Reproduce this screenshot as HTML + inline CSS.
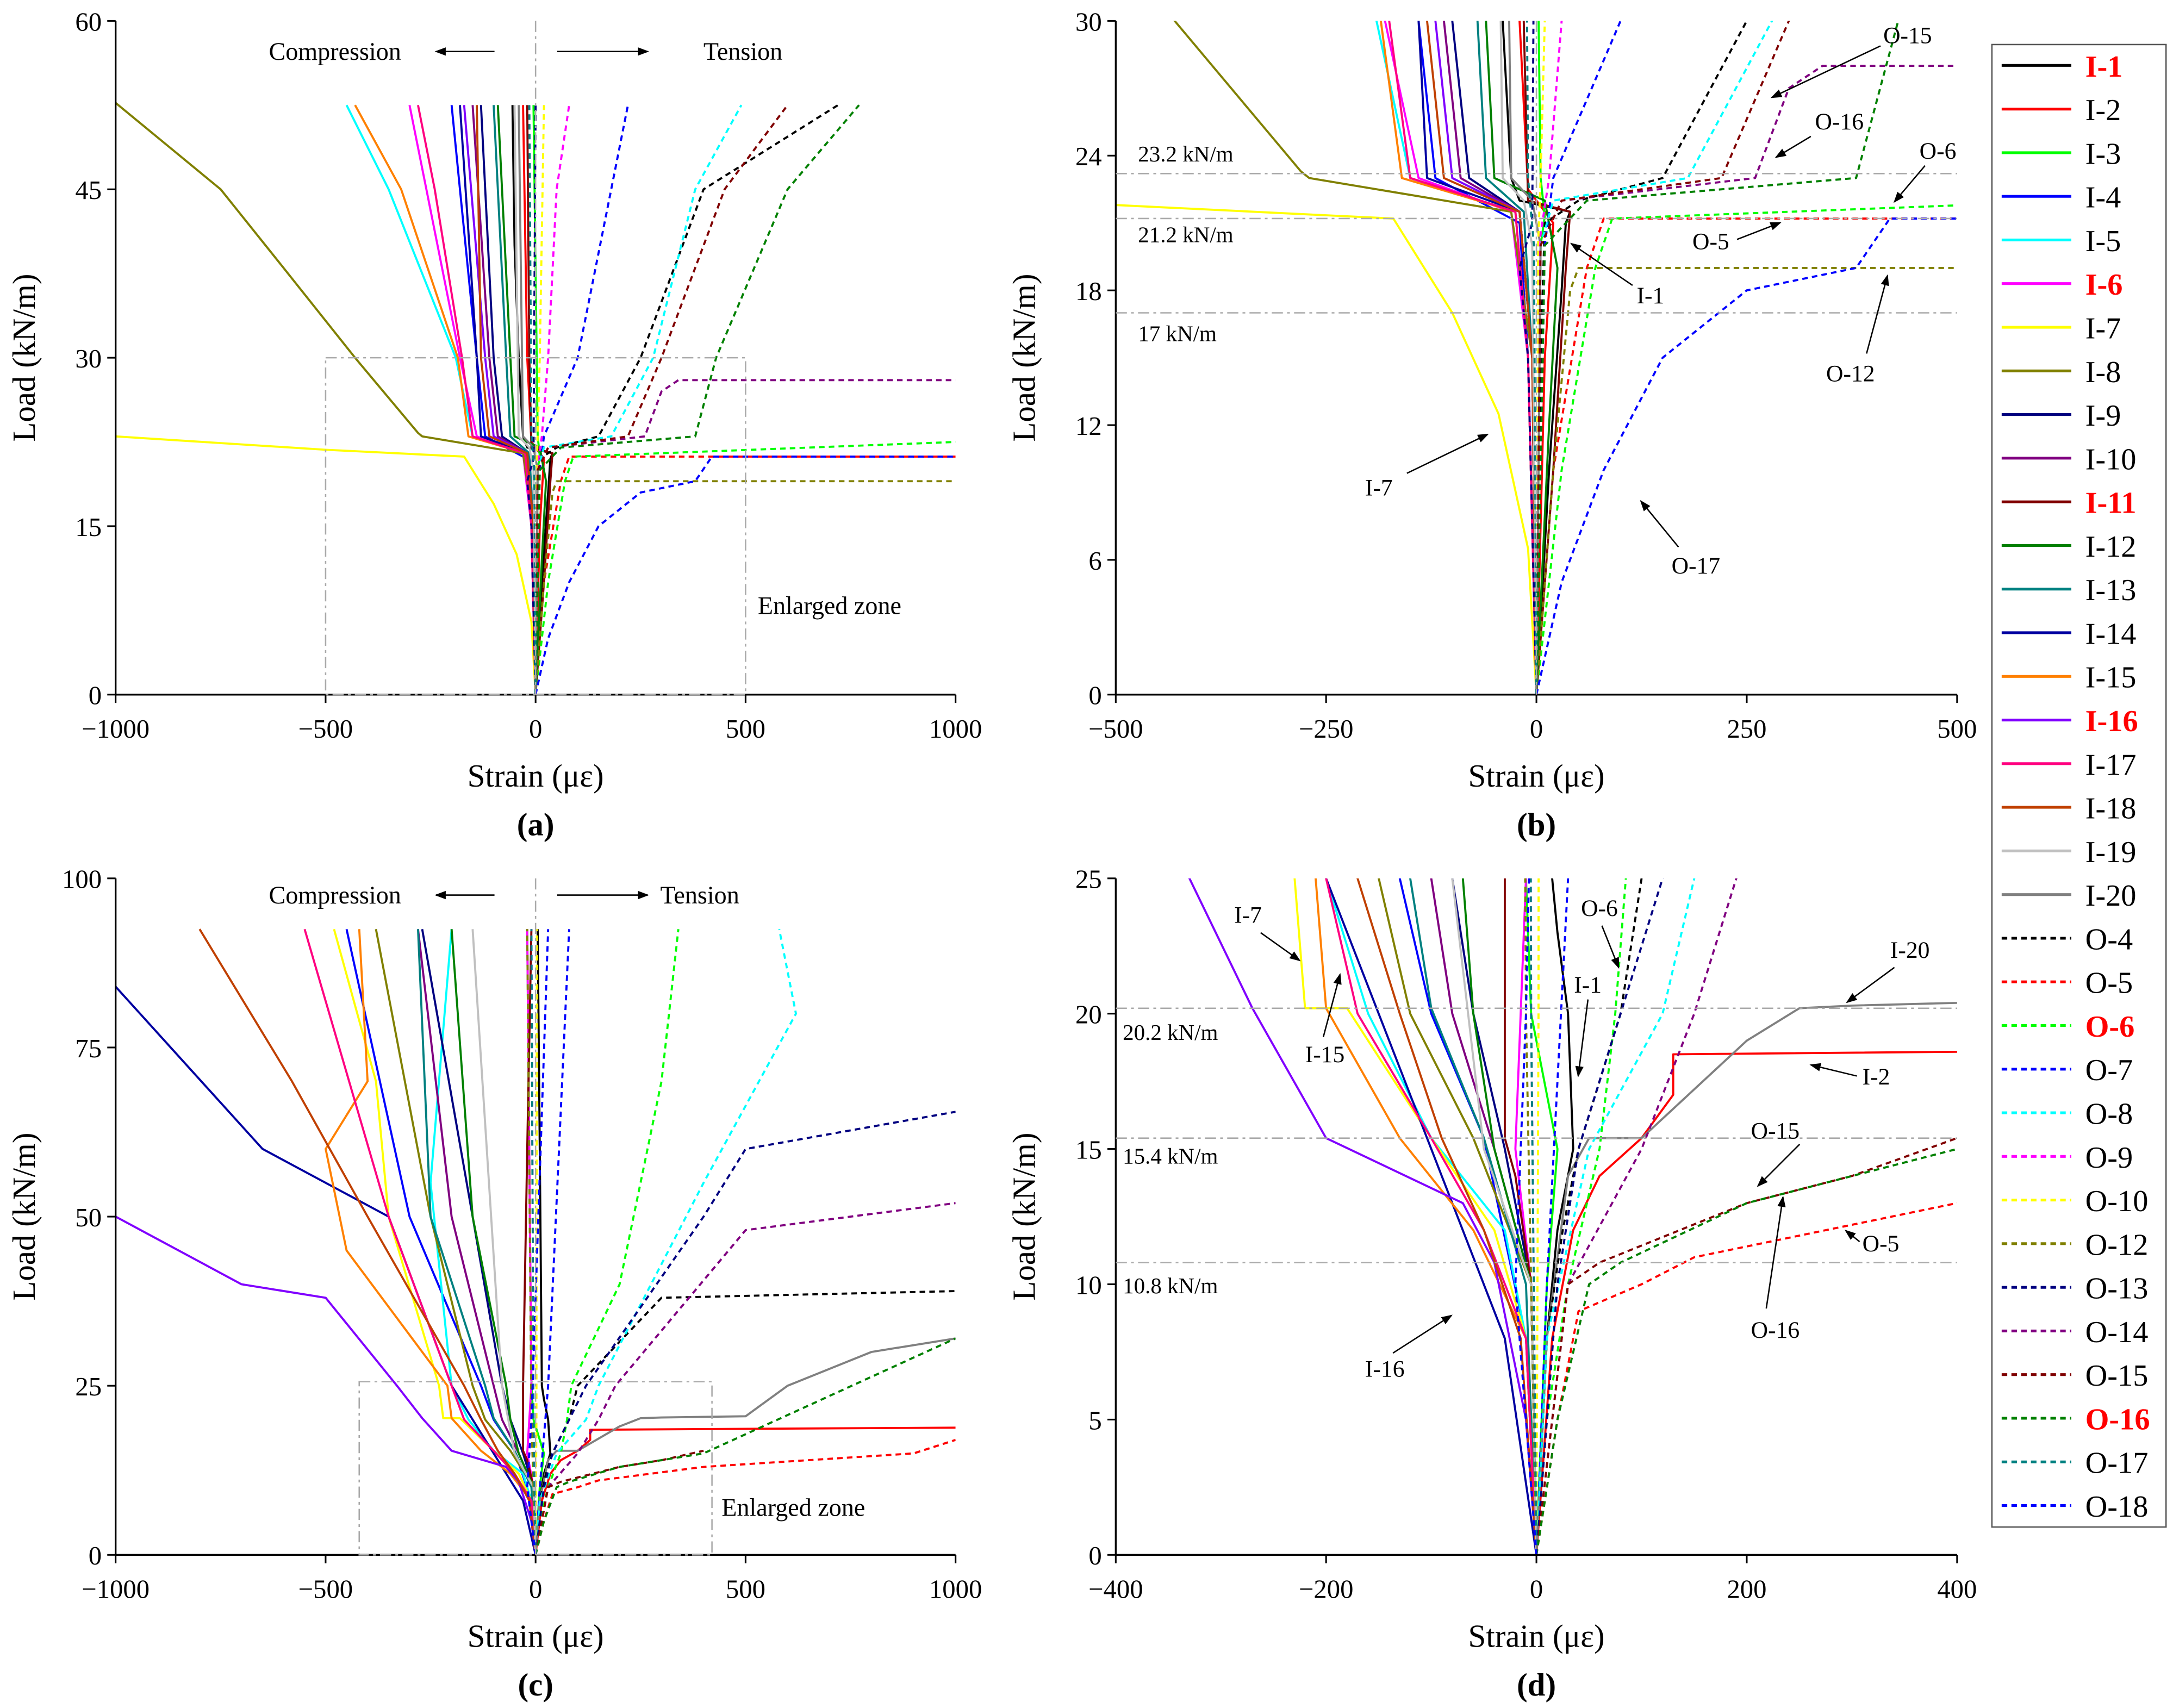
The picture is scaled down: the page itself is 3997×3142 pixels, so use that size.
<!DOCTYPE html>
<html><head><meta charset="utf-8"><style>
html,body{margin:0;padding:0;background:#fff}
svg{display:block}
text{font-family:"Liberation Serif",serif;fill:#000}
</style></head><body>
<svg id="chart" width="3997" height="3142" viewBox="0 0 1560 1227" preserveAspectRatio="none" xmlns="http://www.w3.org/2000/svg">
<defs>
<marker id="ah" markerWidth="8" markerHeight="8" refX="7" refY="4" orient="auto" markerUnits="userSpaceOnUse"><path d="M0,1 L8,4 L0,7 z" fill="#000"/></marker>
</defs>
<g id="root"></g>
</svg>
<script>
// ---------- data ----------
const seriesNames = ["I-1","I-2","I-3","I-4","I-5","I-6","I-7","I-8","I-9","I-10","I-11","I-12","I-13","I-14","I-15","I-16","I-17","I-18","I-19","I-20","O-4","O-5","O-6","O-7","O-8","O-9","O-10","O-12","O-13","O-14","O-15","O-16","O-17","O-18"];
const seriesColors = ["#000000","#ff0000","#00ff00","#0000ff","#00ffff","#ff00ff","#ffff00","#808000","#000080","#800080","#800000","#008000","#008080","#0000a0","#ff8000","#8000ff","#ff0080","#c04000","#c0c0c0","#808080","#000000","#ff0000","#00ff00","#0000ff","#00ffff","#ff00ff","#ffff00","#808000","#000080","#800080","#800000","#008000","#008080","#0000ff"];
const boldRed = ["I-1","I-6","I-11","I-16","O-6","O-16"];

// Test 1 (panels a & b): [strain, load]
const test1 = {
"I-1":[[0,0],[15,10],[30,18],[35,21],[40,21.5],[-20,22],[-30,23],[-40,30],[-50,40],[-55,52.5]],
"I-2":[[0,0],[10,15],[20,21],[-10,22.5],[-20,30],[-30,52.5]],
"I-3":[[0,0],[5,20],[10,21.3],[5,23],[-5,52.5]],
"I-4":[[0,0],[-10,15],[-20,21],[-120,23],[-140,30],[-180,45],[-200,52.5]],
"I-5":[[0,0],[-10,15],[-25,21.5],[-150,23],[-190,30],[-350,45],[-450,52.5]],
"I-6":[[0,0],[-10,15],[-30,21.5],[-140,23],[-180,30],[-260,45],[-300,52.5]],
"I-7":[[0,0],[-10,6.5],[-45,12.5],[-100,17],[-170,21.2],[-500,21.8],[-1000,23]],
"I-8":[[0,0],[-5,15],[-30,21.5],[-270,23],[-280,23.3],[-430,30],[-600,38],[-750,45],[-1000,52.7]],
"I-9":[[0,0],[-5,15],[-20,21.5],[-80,23],[-100,30],[-130,52.5]],
"I-10":[[0,0],[-5,15],[-20,21.5],[-90,23],[-110,30],[-150,52.5]],
"I-11":[[0,0],[20,10],[35,19],[40,21.5],[-10,22],[-15,30],[-20,52.5]],
"I-12":[[0,0],[15,12],[25,19],[10,22],[-50,23],[-60,30],[-90,52.5]],
"I-13":[[0,0],[-5,15],[-15,21.5],[-60,23],[-70,30],[-100,52.5]],
"I-14":[[0,0],[-5,15],[-20,21.5],[-130,23],[-140,30],[-180,52.5]],
"I-15":[[0,0],[-10,15],[-25,21.5],[-160,23],[-185,30],[-320,45],[-430,52.5]],
"I-16":[[0,0],[-5,15],[-20,21.5],[-100,23],[-120,30],[-170,52.5]],
"I-17":[[0,0],[-10,15],[-25,21.5],[-150,23],[-175,30],[-240,45],[-280,52.5]],
"I-18":[[0,0],[-5,15],[-20,21.5],[-110,23],[-130,30],[-140,52.5]],
"I-19":[[0,0],[-5,20],[-15,22],[-40,23],[-50,52.5]],
"I-20":[[0,0],[5,20],[-5,22],[-30,23],[-40,52.5]],
"O-4":[[0,0],[5,15],[10,21],[50,22],[150,23],[250,30],[400,45],[720,52.5]],
"O-5":[[0,0],[20,10],[60,19],[80,21.2],[1000,21.2]],
"O-6":[[0,0],[30,10],[70,19],[90,21.2],[1000,22.5]],
"O-7":[[0,0],[10,20],[20,23],[100,30],[180,45],[220,52.5]],
"O-8":[[0,0],[5,20],[20,22],[180,23],[280,30],[380,45],[490,52.5]],
"O-9":[[0,0],[3,20],[15,23],[30,30],[50,45],[80,52.5]],
"O-10":[[0,0],[2,20],[5,23],[10,30],[20,52.5]],
"O-12":[[0,0],[20,10],[40,18],[50,19],[1000,19]],
"O-13":[[0,0],[-10,15],[-20,19],[-5,21],[0,52.5]],
"O-14":[[0,0],[5,20],[30,22],[260,23],[300,27],[340,28],[1000,28]],
"O-15":[[0,0],[5,20],[30,22],[220,23],[300,30],[450,45],[600,52.5]],
"O-16":[[0,0],[10,20],[60,22],[380,23],[430,30],[600,45],[770,52.5]],
"O-17":[[0,0],[-3,20],[-10,23],[-15,52.5]],
"O-18":[[0,0],[30,5],[80,10],[150,15],[250,18],[380,19],[420,21.2],[1000,21.2]]
};
// Test 2 (panels c & d)
const test2 = {
"I-1":[[0,0],[10,8],[20,12],[35,15],[30,20],[20,23],[15,25],[10,60],[5,92.5]],
"I-2":[[0,0],[15,8],[35,12],[60,14],[100,15.4],[130,17],[130,18.5],[1000,18.8]],
"I-3":[[0,0],[10,10],[20,15],[-5,20],[-10,25],[-20,92.5]],
"I-4":[[0,0],[-10,8],[-50,15.4],[-100,20],[-130,25],[-300,50],[-450,92.5]],
"I-5":[[0,0],[-10,8],[-30,12],[-100,15.4],[-160,20],[-200,25],[-250,55],[-200,92.5]],
"I-6":[[0,0],[-5,10],[-20,15],[-10,25],[-20,92.5]],
"I-7":[[0,0],[-10,8],[-40,12],[-100,15.4],[-180,20.2],[-220,20.2],[-230,25],[-350,50],[-380,70],[-480,92.5]],
"I-8":[[0,0],[-5,10],[-60,15.4],[-120,20],[-150,25],[-250,50],[-380,92.5]],
"I-9":[[0,0],[-5,10],[-30,15],[-60,20],[-80,25],[-150,50],[-270,92.5]],
"I-10":[[0,0],[-5,10],[-40,15],[-80,20],[-100,25],[-200,50],[-280,92.5]],
"I-11":[[0,0],[-5,10],[-20,14],[-30,15.4],[-30,25],[-20,60],[-10,92.5]],
"I-12":[[0,0],[-5,10],[-40,15],[-60,20],[-70,25],[-150,50],[-200,92.5]],
"I-13":[[0,0],[-10,10],[-50,15.4],[-100,20.2],[-120,25],[-250,50],[-280,92.5]],
"I-14":[[0,0],[-30,8],[-100,15],[-200,25],[-350,50],[-650,60],[-1000,84]],
"I-15":[[0,0],[-10,8],[-60,12],[-130,15.4],[-200,20.2],[-210,25],[-450,45],[-500,60],[-400,70],[-420,92.5]],
"I-16":[[0,0],[-10,5],[-40,10.8],[-70,13],[-200,15.4],[-270,20.2],[-330,25],[-500,38],[-700,40],[-1000,50]],
"I-17":[[0,0],[-10,8],[-50,12],[-100,15.4],[-170,20],[-200,25],[-350,50],[-550,92.5]],
"I-18":[[0,0],[-15,8],[-50,12],[-90,15.4],[-130,20],[-170,25],[-400,50],[-580,70],[-800,92.5]],
"I-19":[[0,0],[-5,10],[-50,15],[-80,25],[-150,92.5]],
"I-20":[[0,0],[10,8],[30,14],[50,15.4],[100,15.4],[200,19],[250,20.2],[300,20.3],[500,20.5],[600,25],[800,30],[1000,32]],
"O-4":[[0,0],[10,8],[25,12],[40,15],[80,20],[100,25],[300,38],[1000,39]],
"O-5":[[0,0],[20,5],[40,9],[100,10],[150,11],[400,13],[900,15],[1000,17]],
"O-6":[[0,0],[10,5],[30,10],[60,15],[75,20],[85,25],[200,40],[300,70],[340,92.5]],
"O-7":[[0,0],[10,10],[30,25],[80,92.5]],
"O-8":[[0,0],[10,8],[50,15],[120,20],[150,25],[400,55],[620,80],[580,92.5]],
"O-9":[[0,0],[-5,20],[-10,92.5]],
"O-10":[[0,0],[2,20],[3,92.5]],
"O-12":[[0,0],[-5,10],[-10,20],[-20,92.5]],
"O-13":[[0,0],[20,10],[40,15],[80,20],[120,25],[400,50],[500,60],[1000,65.5]],
"O-14":[[0,0],[30,10],[100,15],[150,20],[190,25],[500,48],[1000,52]],
"O-15":[[0,0],[30,10],[60,10.8],[200,13],[300,14],[400,15.4]],
"O-16":[[0,0],[20,5],[50,10],[80,10.8],[200,13],[400,15],[1000,32]],
"O-17":[[0,0],[-5,20],[-10,92.5]],
"O-18":[[0,0],[-20,10],[-10,20],[30,92.5]]
};
const panelA_xticks=[-1000,-500,0,500,1000], panelA_yticks=[0,15,30,45,60];
const panelB_xticks=[-500,-250,0,250,500], panelB_yticks=[0,6,12,18,24,30];
const panelC_xticks=[-1000,-500,0,500,1000], panelC_yticks=[0,25,50,75,100];
const panelD_xticks=[-400,-200,0,200,400], panelD_yticks=[0,5,10,15,20,25];
const refLinesB=[23.2,21.2,17], refLinesD=[20.2,15.4,10.8];

// ---------- drawing ----------
const NS="http://www.w3.org/2000/svg";
const root=document.getElementById('root');
function el(tag,attrs,parent){const e=document.createElementNS(NS,tag);for(const k in attrs)e.setAttribute(k,attrs[k]);(parent||root).appendChild(e);return e;}
function txt(s,x,y,size,parent,anchor,extra){const t=el('text',Object.assign({x:x,y:y,'font-size':size,'text-anchor':anchor||'start'},extra||{}),parent);t.textContent=s;return t;}

function panel(id,L,R,T,B,xmin,xmax,ymax,xt,yt,data,letter){
  const g=el('g',{});
  
  
  const sx=v=>L+(v-xmin)/(xmax-xmin)*(R-L);
  const sy=v=>B-v/ymax*(B-T);
  const cp=el('clipPath',{id:'clip'+id},g);el('rect',{x:L,y:T,width:R-L,height:B-T},cp);
  const lines=el('g',{'clip-path':'url(#clip'+id+')'},g);
  seriesNames.forEach((n,i)=>{
    const pts=data[n].map(p=>sx(p[0]).toFixed(1)+','+sy(p[1]).toFixed(1)).join(' ');
    const pl=el('polyline',{points:pts,fill:'none',stroke:seriesColors[i],'stroke-width':1.5,'stroke-dasharray':n[0]==='O'?'4,3':'none','stroke-linejoin':'round'},lines);
    
    
  });
  el('line',{x1:L,y1:T,x2:L,y2:B,stroke:'#000','stroke-width':1.3},g);
  el('line',{x1:L,y1:B,x2:R,y2:B,stroke:'#000','stroke-width':1.3},g);
  xt.forEach(v=>{el('line',{x1:sx(v),y1:B,x2:sx(v),y2:B+6,stroke:'#000','stroke-width':1.2},g);
    const t=txt(v<0?'\u2212'+Math.abs(v):String(v),sx(v),B+31,19,g,'middle');
    });
  yt.forEach(v=>{el('line',{x1:L-6,y1:sy(v),x2:L,y2:sy(v),stroke:'#000','stroke-width':1.2},g);
    const t=txt(String(v),L-10,sy(v)+7,19,g,'end');
    });
  const xl=txt('Strain (\u03bc\u03b5)',(L+R)/2,B+66,23,g,'middle');
  
  const yx=L-58,yy=(T+B)/2;
  const yl=txt('Load (kN/m)',yx,yy,23,g,'middle',{transform:'rotate(-90 '+yx+' '+yy+')'});
  
  const pl=txt('('+letter+')',(L+R)/2,B+101,23,g,'middle',{'font-weight':'bold'});
  
  return {g,sx,sy};
}
function arrow(x1,y1,x2,y2,g){el('line',{x1,y1,x2,y2,stroke:'#000','stroke-width':1,'marker-end':'url(#ah)'},g);}
function ann(s,x,y,ax1,ay1,ax2,ay2,g){const t=txt(s,x,y,17,g);if(ax1!=null)arrow(ax1,ay1,ax2,ay2,g);}
const dd={stroke:'#aaa','stroke-width':1,'stroke-dasharray':'8,3,2,3',fill:'none'};

// (a)
const A=panel('a',83,686,15,499,-1000,1000,60,panelA_xticks,panelA_yticks,test1,'a');
el('line',Object.assign({x1:A.sx(0),y1:15,x2:A.sx(0),y2:499},dd),A.g);
el('rect',Object.assign({x:A.sx(-500),y:A.sy(30),width:A.sx(500)-A.sx(-500),height:A.sy(0)-A.sy(30)},dd),A.g);
txt('Compression',193,43,18,A.g);arrow(355,37,313,37,A.g);
txt('Tension',505,43,18,A.g);arrow(400,37,465,37,A.g);
txt('Enlarged zone',544,441,18,A.g);

// (b)
const Bp=panel('b',801,1405,15,499,-500,500,30,panelB_xticks,panelB_yticks,test1,'b');
refLinesB.forEach(v=>{el('line',Object.assign({x1:801,y1:Bp.sy(v),x2:1405,y2:Bp.sy(v)},dd),Bp.g);});
el('line',Object.assign({x1:Bp.sx(0),y1:15,x2:Bp.sx(0),y2:499},dd),Bp.g);
txt('23.2 kN/m',817,116,16,Bp.g);txt('21.2 kN/m',817,174,16,Bp.g);txt('17 kN/m',817,245,16,Bp.g);
ann('O-15',1352,31,1350,33,1272,70,Bp.g);
ann('O-16',1303,93,1300,98,1275,113,Bp.g);
ann('O-6',1378,114,1382,119,1360,145,Bp.g);
ann('O-5',1215,179,1247,172,1278,160,Bp.g);
ann('I-1',1175,218,1172,205,1128,175,Bp.g);
ann('O-12',1311,274,1340,254,1355,198,Bp.g);
ann('I-7',980,356,1010,340,1068,312,Bp.g);
ann('O-17',1200,412,1205,393,1178,360,Bp.g);

// (c)
const C=panel('c',83,686,631,1117,-1000,1000,100,panelC_xticks,panelC_yticks,test2,'c');
el('line',Object.assign({x1:C.sx(0),y1:631,x2:C.sx(0),y2:1117},dd),C.g);
el('rect',Object.assign({x:C.sx(-420),y:C.sy(25.6),width:C.sx(420)-C.sx(-420),height:C.sy(0)-C.sy(25.6)},dd),C.g);
txt('Compression',193,649,18,C.g);arrow(355,643,313,643,C.g);
txt('Tension',474,649,18,C.g);arrow(400,643,465,643,C.g);
txt('Enlarged zone',518,1089,18,C.g);

// (d)
const D=panel('d',801,1405,631,1117,-400,400,25,panelD_xticks,panelD_yticks,test2,'d');
refLinesD.forEach(v=>{el('line',Object.assign({x1:801,y1:D.sy(v),x2:1405,y2:D.sy(v)},dd),D.g);});
txt('20.2 kN/m',806,747,16,D.g);txt('15.4 kN/m',806,836,16,D.g);txt('10.8 kN/m',806,929,16,D.g);
ann('I-7',886,663,905,670,933,690,D.g);
ann('I-15',937,763,950,745,962,700,D.g);
ann('O-6',1135,658,1150,665,1162,695,D.g);
ann('I-1',1130,713,1140,718,1133,773,D.g);
ann('I-20',1357,688,1360,695,1326,720,D.g);
ann('I-2',1337,779,1333,773,1300,765,D.g);
ann('O-15',1257,818,1292,822,1262,852,D.g);
ann('O-5',1337,899,1335,892,1325,884,D.g);
ann('O-16',1257,961,1268,940,1280,860,D.g);
ann('I-16',980,989,1000,972,1042,945,D.g);

// legend
const lg=el('g',{});


el('rect',{x:1430,y:32,width:125,height:1065,fill:'#fff',stroke:'#555','stroke-width':1},lg);
seriesNames.forEach((n,i)=>{
  const y=47+i*31.35;
  const e=el('g',{},lg);
  
  
  el('line',{x1:1437,y1:y,x2:1487,y2:y,stroke:seriesColors[i],'stroke-width':2,'stroke-dasharray':n[0]==='O'?'4,3':'none'},e);
  const br=boldRed.includes(n);
  txt(n,1497,y+8,22,e,'start',br?{'font-weight':'bold',fill:'#ff0000',style:'fill:#ff0000'}:{});
});
</script>
</body></html>
